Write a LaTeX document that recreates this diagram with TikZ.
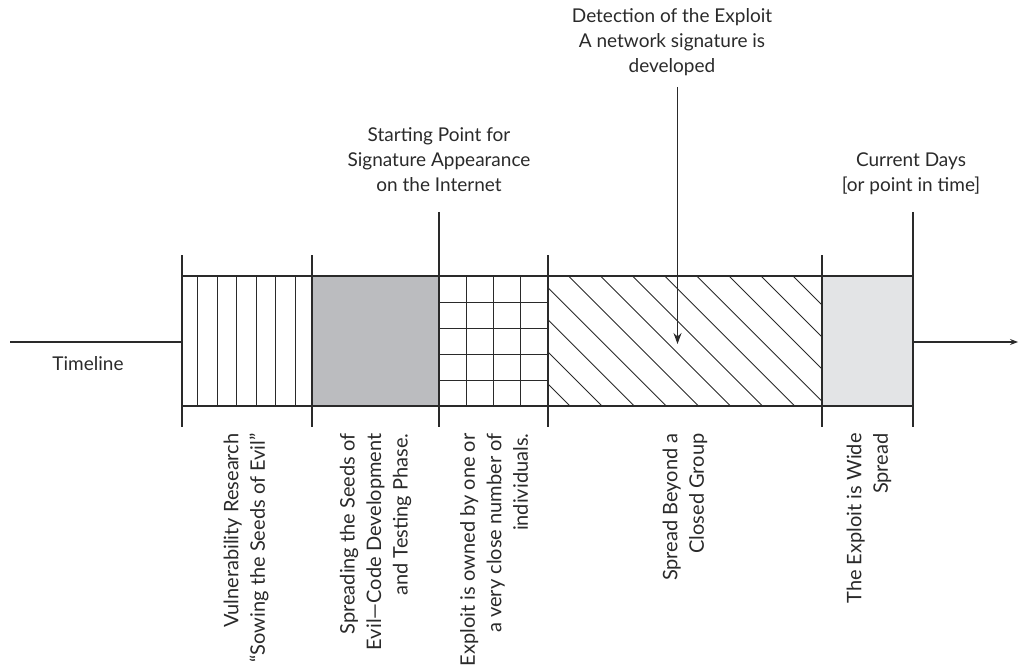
\documentclass[tikz,border=0pt]{standalone}
\usepackage{fontspec}
\setmainfont{Lato}
\usetikzlibrary{arrows.meta}
\definecolor{ink}{HTML}{2A2A2A}
\definecolor{darkfill}{HTML}{BBBCBF}
\definecolor{lightfill}{HTML}{E3E4E6}
\begin{document}
\begin{tikzpicture}[x=1pt,y=-1pt,line width=1pt,
  lab/.style={font=\fontsize{19}{25}\selectfont,text=ink,align=center,inner sep=0pt},
  vlab/.style={lab,font=\fontsize{20}{26.5}\selectfont,rotate=90,anchor=east,align=right},
  line/.style={draw=ink,line width=1.1pt},
  hatch/.style={draw=ink,line width=0.9pt}]
\useasboundingbox (0,0) rectangle (1019,668);

% named points
\coordinate (tlstart) at (10,342);
\coordinate (boxL) at (182,342);
\coordinate (boxR) at (913,342);
\coordinate (tlend) at (1018,342);
\coordinate (detTip) at (677.5,344);

% fills
\fill[darkfill] (312,276) rectangle (439,406);
\fill[lightfill] (822,276) rectangle (913,406);

% segment 1: vertical lines
\foreach \x in {197.7,217.3,236.7,256,275.3,295}
  \draw[hatch] (\x,276) -- (\x,406);

% segment 3: grid
\foreach \x in {466.3,493.5,520.8}
  \draw[hatch] (\x,276) -- (\x,406);
\foreach \y in {302,328,354,380}
  \draw[hatch] (439,\y) -- (548,\y);

% segment 4: diagonal hatch
\begin{scope}
  \clip (548,276) rectangle (822,406);
  \foreach \k in {-4,...,8}
    \draw[hatch] ({536.3+32.1*\k},276) -- ({536.3+32.1*\k+130},406);
\end{scope}

% outline and separators
\draw[line] (182,276) rectangle (913,406);
\foreach \x in {312,439,548,822}
  \draw[line] (\x,276) -- (\x,406);

% ticks above
\foreach \x in {182,312,548,822}
  \draw[line] (\x,255) -- (\x,276);
\draw[line] (439,212) -- (439,276);
\draw[line] (913,212) -- (913,276);
% ticks below
\foreach \x in {182,312,439,548,822,913}
  \draw[line] (\x,406) -- (\x,427);

% timeline
\draw[line] (tlstart) -- (boxL);
\draw[line,-{Stealth[length=8pt,width=6pt]}] (boxR) -- (tlend);
\node[lab] (timeline) at (88,364) {Timeline};

% top labels (anchor base = baseline of last line)
\node[lab,anchor=base] (det) at (672,73) {Detection of the Exploit\\A network signature is\\developed};
\draw[line,-{Stealth[length=11pt,width=8pt]}] (677.5,87) -- (detTip);
\node[lab,anchor=base] (start) at (439,192) {Starting Point for\\Signature Appearance\\on the Internet};
\node[lab,anchor=base] (current) at (911,192) {Current Days\\{[or point in time]}};

% rotated labels
\node[vlab] (l1) at (246,433) {Vulnerability Research\\“Sowing the Seeds of Evil”};
\node[vlab] (l2) at (375.5,433) {Spreading the Seeds of\\Evil—Code Development\\and Testing Phase.};
\node[vlab] (l3) at (494,433) {Exploit is owned by one or\\a very close number of\\individuals.};
\node[vlab] (l4) at (685,433) {Spread Beyond a\\Closed Group};
\node[vlab] (l5) at (869,433) {The Exploit is Wide\\Spread};
\end{tikzpicture}
\end{document}
